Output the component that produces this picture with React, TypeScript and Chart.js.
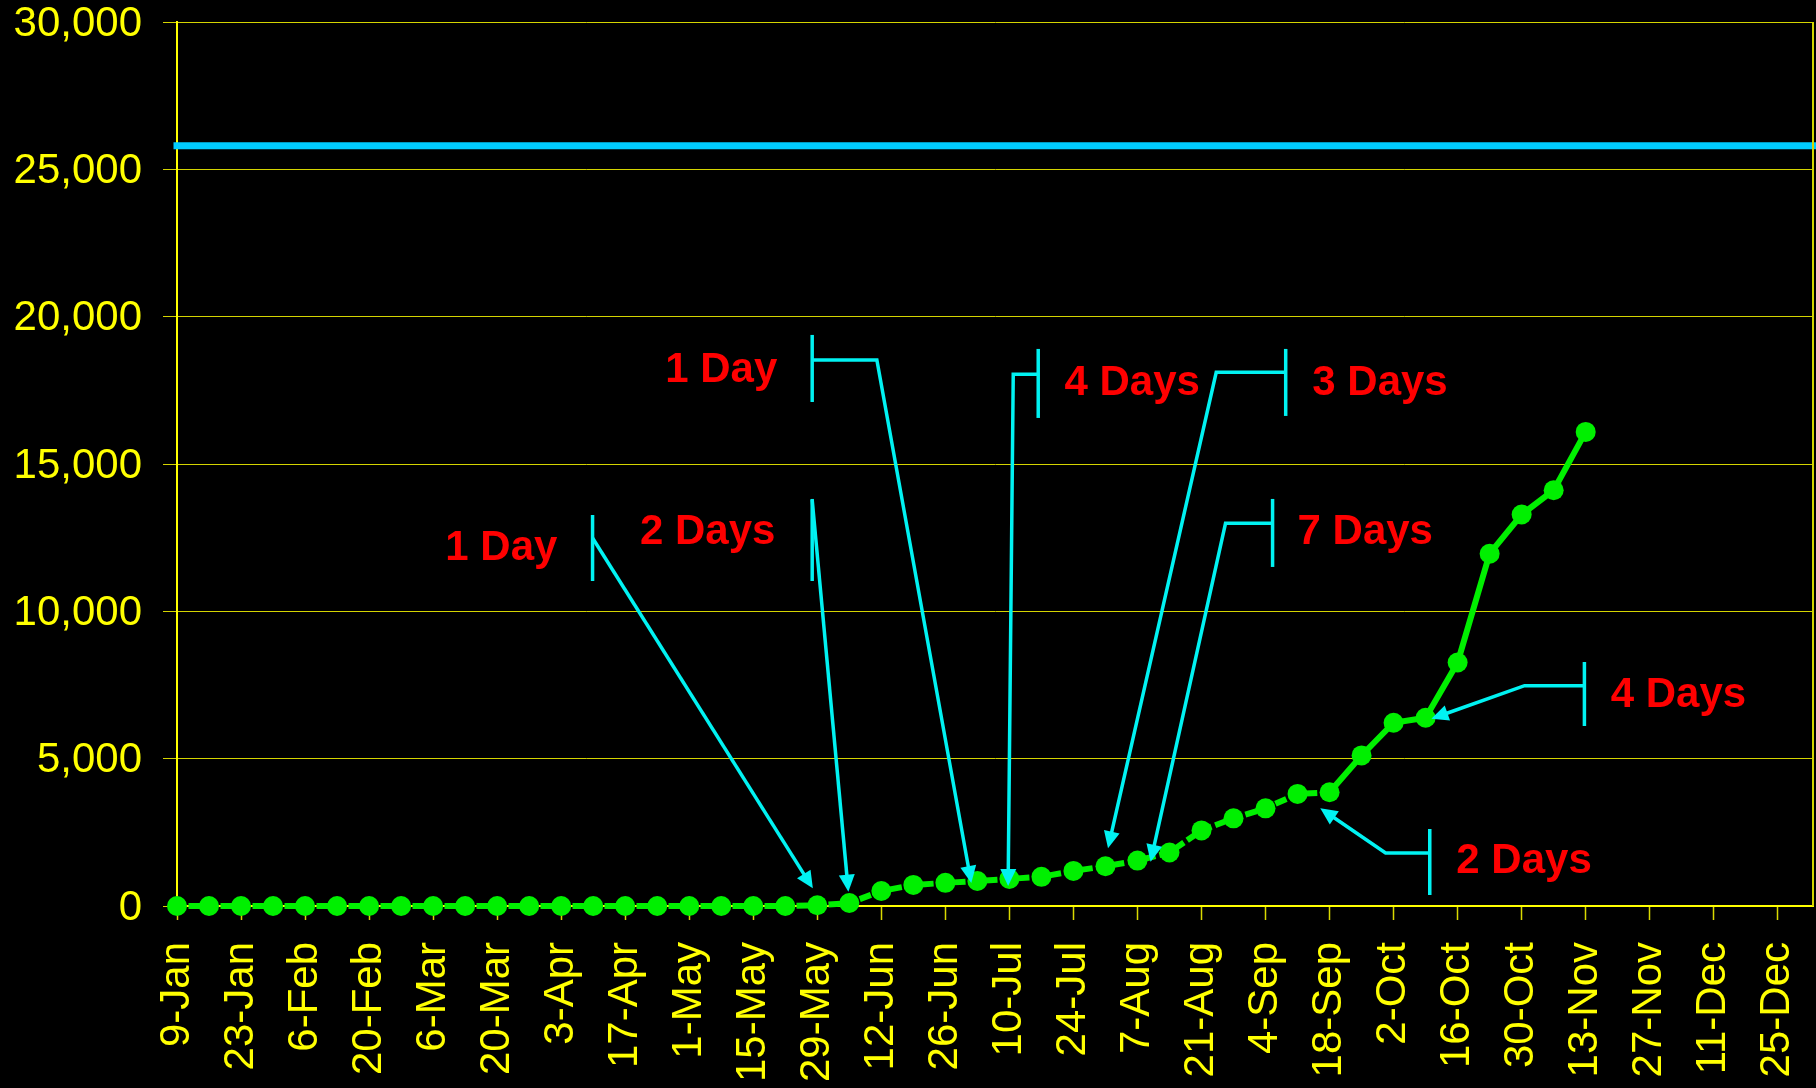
import React, { useEffect, useRef } from 'react';
import { Chart, registerables } from 'chart.js';

Chart.register(...registerables);

// ---- data ----
const weekLabels = [
  '9-Jan', '16-Jan', '23-Jan', '30-Jan', '6-Feb', '13-Feb', '20-Feb', '27-Feb',
  '6-Mar', '13-Mar', '20-Mar', '27-Mar', '3-Apr', '10-Apr', '17-Apr', '24-Apr',
  '1-May', '8-May', '15-May', '22-May', '29-May', '5-Jun', '12-Jun', '19-Jun',
  '26-Jun', '3-Jul', '10-Jul', '17-Jul', '24-Jul', '31-Jul', '7-Aug', '14-Aug',
  '21-Aug', '28-Aug', '4-Sep', '11-Sep', '18-Sep', '25-Sep', '2-Oct', '9-Oct',
  '16-Oct', '23-Oct', '30-Oct', '6-Nov', '13-Nov', '20-Nov', '27-Nov', '4-Dec',
  '11-Dec', '18-Dec', '25-Dec',
];
const tickIndexes = [0, 2, 4, 6, 8, 10, 12, 14, 16, 18, 20, 22, 24, 26, 28, 30, 32, 34, 36, 38, 40, 42, 44, 46, 48, 50];
const cumulative = [
  0, 0, 0, 0, 0, 0, 0, 0, 0, 0,
  0, 0, 0, 0, 0, 0, 0, 0, 0, 0,
  25, 100, 510, 715, 785, 850, 920, 990, 1190, 1350,
  1540, 1815, 2565, 2975, 3315, 3805, 3860, 5110, 6220, 6390,
  8265, 11955, 13285, 14110, 16090,
];
const solidFromIndex = 36;
const targetLevel = 25800;
const yTicks = [0, 5000, 10000, 15000, 20000, 25000, 30000];
const xMax = 51.1;

// annotation layout (data units: x = week index, y = value)
const notes = [
  { text: '1 Day', align: 'right', tx: 11.88, ty: 11740, bx: 12.98, b0: 13270, b1: 11030, path: [[12.98, 12490]], tip: [19.86, 600] },
  { text: '2 Days', align: 'right', tx: 18.69, ty: 12286, bx: 19.84, b0: 13814, b1: 11030, path: [[19.84, 13780]], tip: [20.97, 485] },
  { text: '1 Day', align: 'right', tx: 18.75, ty: 17785, bx: 19.84, b0: 19380, b1: 17105, path: [[19.84, 18530], [21.86, 18530]], tip: [24.81, 780] },
  { text: '4 Days', align: 'left', tx: 27.72, ty: 17343, bx: 26.9, b0: 18905, b1: 16563, path: [[26.9, 18046], [26.12, 18046]], tip: [25.96, 679] },
  { text: '3 Days', align: 'left', tx: 35.46, ty: 17343, bx: 34.63, b0: 18905, b1: 16631, path: [[34.63, 18114], [32.46, 18114]], tip: [29.08, 1958] },
  { text: '7 Days', align: 'left', tx: 35.0, ty: 12286, bx: 34.22, b0: 13814, b1: 11506, path: [[34.22, 12989], [32.75, 12989]], tip: [30.41, 1504] },
  { text: '4 Days', align: 'left', tx: 44.78, ty: 6754, bx: 43.96, b0: 8281, b1: 6109, path: [[43.96, 7477], [42.09, 7477]], tip: [39.18, 6354] },
  { text: '2 Days', align: 'left', tx: 39.96, ty: 1120, bx: 39.13, b0: 2613, b1: 373, path: [[39.13, 1799], [37.75, 1799]], tip: [35.71, 3316] },
];

const FONT = '"Liberation Sans", Arial, Helvetica, sans-serif';
const YELLOW = '#ffff00';
const GRID = '#d4d400';
const GREEN = '#00f000';
const CYAN = '#00f2f2';

const annotationPlugin = {
  id: 'annotations',
  afterDatasetsDraw(chart: any) {
    const { ctx, chartArea, scales } = chart;
    const xs = scales.x;
    const ys = scales.y;
    ctx.save();
    // right border of the plot
    ctx.strokeStyle = GRID;
    ctx.lineWidth = 2;
    ctx.beginPath();
    ctx.moveTo(chartArea.right, chartArea.top);
    ctx.lineTo(chartArea.right, chartArea.bottom);
    ctx.stroke();

    ctx.strokeStyle = CYAN;
    ctx.fillStyle = CYAN;
    ctx.lineWidth = 3.5;
    ctx.lineCap = 'butt';
    ctx.lineJoin = 'miter';
    for (const n of notes) {
      const bx = xs.getPixelForValue(n.bx);
      ctx.beginPath();
      ctx.moveTo(bx, ys.getPixelForValue(n.b0));
      ctx.lineTo(bx, ys.getPixelForValue(n.b1));
      ctx.stroke();

      const pts = n.path.map((p) => [xs.getPixelForValue(p[0]), ys.getPixelForValue(p[1])]);
      const tip = [xs.getPixelForValue(n.tip[0]), ys.getPixelForValue(n.tip[1])];
      const last = pts[pts.length - 1];
      const dx = tip[0] - last[0];
      const dy = tip[1] - last[1];
      const len = Math.hypot(dx, dy);
      const ux = dx / len;
      const uy = dy / len;
      const headLen = 17;
      const headHalf = 8;
      const base = [tip[0] - ux * headLen, tip[1] - uy * headLen];
      ctx.beginPath();
      ctx.moveTo(bx, pts[0][1]);
      for (const p of pts) ctx.lineTo(p[0], p[1]);
      ctx.lineTo(base[0] + ux * 2, base[1] + uy * 2);
      ctx.stroke();
      ctx.beginPath();
      ctx.moveTo(tip[0], tip[1]);
      ctx.lineTo(base[0] - uy * headHalf, base[1] + ux * headHalf);
      ctx.lineTo(base[0] + uy * headHalf, base[1] - ux * headHalf);
      ctx.closePath();
      ctx.fill();
    }

    ctx.fillStyle = '#ff0000';
    ctx.font = `bold 42px ${FONT}`;
    ctx.textBaseline = 'alphabetic';
    for (const n of notes) {
      ctx.textAlign = n.align as CanvasTextAlign;
      ctx.fillText(n.text, xs.getPixelForValue(n.tx), ys.getPixelForValue(n.ty));
    }
    ctx.restore();
  },
};

export default function App() {
  const ref = useRef<HTMLCanvasElement>(null);
  useEffect(() => {
    document.body.style.margin = '0';
    document.body.style.background = '#000';
    const canvas = ref.current;
    if (!canvas) return;
    const chart = new Chart(canvas, {
      type: 'line',
      data: {
        datasets: [
          {
            label: 'Cases',
            data: cumulative.map((v, i) => ({ x: i, y: v })),
            borderColor: GREEN,
            backgroundColor: GREEN,
            borderWidth: 6,
            borderDash: [12, 4],
            borderDashOffset: 4.5,
            borderCapStyle: 'butt',
            pointRadius: 10,
            pointBorderWidth: 0,
            pointBackgroundColor: GREEN,
            tension: 0,
            clip: false,
            order: 1,
            segment: {
              borderDash: (c: any) => (c.p0DataIndex >= solidFromIndex ? [] : [12, 4]),
            },
          } as any,
          {
            label: 'Target',
            data: [{ x: 0, y: targetLevel }, { x: xMax, y: targetLevel }],
            borderColor: '#00ccff',
            borderWidth: 7,
            borderCapStyle: 'square',
            pointRadius: 0,
            clip: false,
            order: 2,
          } as any,
        ],
      },
      options: {
        animation: false,
        responsive: false,
        maintainAspectRatio: false,
        devicePixelRatio: 1,
        layout: { autoPadding: false, padding: { top: 22, right: 3, bottom: 0, left: 0 } },
        plugins: {
          legend: { display: false },
          tooltip: { enabled: false },
        },
        scales: {
          x: {
            type: 'linear',
            min: 0,
            max: xMax,
            afterBuildTicks: (s: any) => {
              s.ticks = tickIndexes.map((v) => ({ value: v }));
            },
            afterFit: (s: any) => {
              s.height = 182;
              s.paddingLeft = 0;
              s.paddingRight = 0;
            },
            grid: {
              drawOnChartArea: false,
              drawTicks: true,
              tickLength: 14,
              tickColor: '#d8d800',
              tickWidth: 1.5,
            },
            border: { display: true, color: YELLOW, width: 2 },
            ticks: {
              autoSkip: false,
              maxRotation: 90,
              minRotation: 90,
              padding: 22,
              color: YELLOW,
              font: { family: FONT, size: 42, lineHeight: 1 },
              callback: (v: any) => weekLabels[v as number] ?? '',
            },
          },
          y: {
            type: 'linear',
            min: 0,
            max: 30000,
            afterBuildTicks: (s: any) => {
              s.ticks = yTicks.map((v) => ({ value: v }));
            },
            afterFit: (s: any) => {
              s.width = 177;
              s.paddingTop = 0;
              s.paddingBottom = 0;
            },
            grid: {
              color: GRID,
              lineWidth: 1,
              drawTicks: true,
              tickLength: 14,
              tickColor: GRID,
            },
            border: { display: true, color: YELLOW, width: 2 },
            ticks: {
              padding: 21,
              labelOffset: 2,
              color: YELLOW,
              font: { family: FONT, size: 42, lineHeight: 1 },
              callback: (v: any) => Number(v).toLocaleString('en-US'),
            },
          },
        },
      },
      plugins: [annotationPlugin],
    } as any);
    return () => chart.destroy();
  }, []);
  return (
    <div style={{ width: 1816, height: 1088, background: '#000' }}>
      <canvas ref={ref} width={1816} height={1088} style={{ display: 'block' }} />
    </div>
  );
}
